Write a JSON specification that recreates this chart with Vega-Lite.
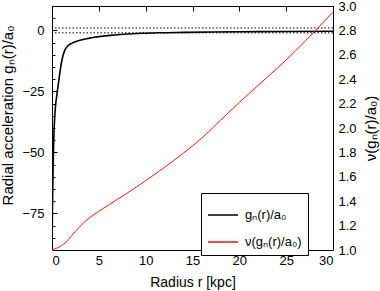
{
  "$schema": "https://vega.github.io/schema/vega-lite/v6.json",
  "autosize": "none",
  "width": 281,
  "height": 244,
  "padding": {"left": 52, "top": 6, "right": 47, "bottom": 41},
  "background": "white",
  "config": {
    "view": {"stroke": "black", "strokeWidth": 1},
    "font": "Liberation Sans",
    "axis": {"grid": true, "gridColor": "black", "gridOpacity": 1, "gridWidth": 1, "ticks": false, "domain": false, "labelColor": "black", "titleColor": "black", "labelFont": "Liberation Sans", "titleFont": "Liberation Sans", "labelFontSize": 13, "titleFontSize": 14, "titleFontWeight": "normal", "labelOverlap": false},
    "legend": {"labelFont": "Liberation Sans", "labelFontSize": 13, "labelColor": "black"}
  },
  "datasets": {
    "accel": [
      {"r": 0, "g": -90, "series": "gₙ(r)/a₀"},
      {"r": 0.04, "g": -75, "series": "gₙ(r)/a₀"},
      {"r": 0.08, "g": -65, "series": "gₙ(r)/a₀"},
      {"r": 0.14, "g": -52, "series": "gₙ(r)/a₀"},
      {"r": 0.2, "g": -43, "series": "gₙ(r)/a₀"},
      {"r": 0.3, "g": -35, "series": "gₙ(r)/a₀"},
      {"r": 0.4, "g": -30, "series": "gₙ(r)/a₀"},
      {"r": 0.5, "g": -27, "series": "gₙ(r)/a₀"},
      {"r": 0.64, "g": -23, "series": "gₙ(r)/a₀"},
      {"r": 0.8, "g": -18.5, "series": "gₙ(r)/a₀"},
      {"r": 0.93, "g": -15, "series": "gₙ(r)/a₀"},
      {"r": 1.1, "g": -11.5, "series": "gₙ(r)/a₀"},
      {"r": 1.36, "g": -8.2, "series": "gₙ(r)/a₀"},
      {"r": 1.7, "g": -6.3, "series": "gₙ(r)/a₀"},
      {"r": 2.1, "g": -5.3, "series": "gₙ(r)/a₀"},
      {"r": 2.6, "g": -4.5, "series": "gₙ(r)/a₀"},
      {"r": 3.2, "g": -3.8, "series": "gₙ(r)/a₀"},
      {"r": 3.7, "g": -3.4, "series": "gₙ(r)/a₀"},
      {"r": 4.5, "g": -2.8, "series": "gₙ(r)/a₀"},
      {"r": 5.3, "g": -2.4, "series": "gₙ(r)/a₀"},
      {"r": 6.2, "g": -2.05, "series": "gₙ(r)/a₀"},
      {"r": 7.3, "g": -1.7, "series": "gₙ(r)/a₀"},
      {"r": 8.6, "g": -1.37, "series": "gₙ(r)/a₀"},
      {"r": 10, "g": -1.15, "series": "gₙ(r)/a₀"},
      {"r": 11.5, "g": -0.96, "series": "gₙ(r)/a₀"},
      {"r": 14, "g": -0.8, "series": "gₙ(r)/a₀"},
      {"r": 17, "g": -0.65, "series": "gₙ(r)/a₀"},
      {"r": 20, "g": -0.55, "series": "gₙ(r)/a₀"},
      {"r": 25, "g": -0.42, "series": "gₙ(r)/a₀"},
      {"r": 30, "g": -0.32, "series": "gₙ(r)/a₀"}
    ],
    "nu": [
      {"r": 0, "nu": 1.0, "series": "ν(gₙ(r)/a₀)"},
      {"r": 0.5, "nu": 1.015, "series": "ν(gₙ(r)/a₀)"},
      {"r": 1, "nu": 1.035, "series": "ν(gₙ(r)/a₀)"},
      {"r": 1.5, "nu": 1.065, "series": "ν(gₙ(r)/a₀)"},
      {"r": 2, "nu": 1.108, "series": "ν(gₙ(r)/a₀)"},
      {"r": 2.5, "nu": 1.152, "series": "ν(gₙ(r)/a₀)"},
      {"r": 3, "nu": 1.195, "series": "ν(gₙ(r)/a₀)"},
      {"r": 3.5, "nu": 1.232, "series": "ν(gₙ(r)/a₀)"},
      {"r": 4, "nu": 1.264, "series": "ν(gₙ(r)/a₀)"},
      {"r": 5, "nu": 1.317, "series": "ν(gₙ(r)/a₀)"},
      {"r": 6, "nu": 1.367, "series": "ν(gₙ(r)/a₀)"},
      {"r": 7, "nu": 1.416, "series": "ν(gₙ(r)/a₀)"},
      {"r": 8, "nu": 1.465, "series": "ν(gₙ(r)/a₀)"},
      {"r": 9, "nu": 1.516, "series": "ν(gₙ(r)/a₀)"},
      {"r": 10, "nu": 1.569, "series": "ν(gₙ(r)/a₀)"},
      {"r": 11, "nu": 1.622, "series": "ν(gₙ(r)/a₀)"},
      {"r": 12, "nu": 1.677, "series": "ν(gₙ(r)/a₀)"},
      {"r": 13, "nu": 1.734, "series": "ν(gₙ(r)/a₀)"},
      {"r": 14, "nu": 1.793, "series": "ν(gₙ(r)/a₀)"},
      {"r": 15, "nu": 1.853, "series": "ν(gₙ(r)/a₀)"},
      {"r": 16, "nu": 1.918, "series": "ν(gₙ(r)/a₀)"},
      {"r": 17, "nu": 1.99, "series": "ν(gₙ(r)/a₀)"},
      {"r": 18, "nu": 2.064, "series": "ν(gₙ(r)/a₀)"},
      {"r": 19, "nu": 2.137, "series": "ν(gₙ(r)/a₀)"},
      {"r": 20, "nu": 2.21, "series": "ν(gₙ(r)/a₀)"},
      {"r": 21, "nu": 2.28, "series": "ν(gₙ(r)/a₀)"},
      {"r": 22, "nu": 2.349, "series": "ν(gₙ(r)/a₀)"},
      {"r": 23, "nu": 2.418, "series": "ν(gₙ(r)/a₀)"},
      {"r": 24, "nu": 2.487, "series": "ν(gₙ(r)/a₀)"},
      {"r": 25, "nu": 2.558, "series": "ν(gₙ(r)/a₀)"},
      {"r": 26, "nu": 2.633, "series": "ν(gₙ(r)/a₀)"},
      {"r": 27, "nu": 2.71, "series": "ν(gₙ(r)/a₀)"},
      {"r": 28, "nu": 2.789, "series": "ν(gₙ(r)/a₀)"},
      {"r": 29, "nu": 2.869, "series": "ν(gₙ(r)/a₀)"},
      {"r": 30, "nu": 2.95, "series": "ν(gₙ(r)/a₀)"}
    ],
    "levels": [{"level": 1}, {"level": -1}]
  },
  "layer": [
    {
      "layer": [
        {
          "data": {"name": "levels"},
          "mark": {"type": "rule", "color": "black", "strokeWidth": 1, "strokeDash": [1.5, 2]},
          "encoding": {
            "y": {"field": "level", "type": "quantitative",
              "axis": {"orient": "left", "title": "Radial acceleration gₙ(r)/a₀", "titleFontSize": 15, "titleX": -37, "titleY": 109,
                "values": [-85, -80, -75, -70, -65, -60, -55, -50, -45, -40, -35, -30, -25, -20, -15, -10, -5, 0, 5],
                "labelExpr": "abs(datum.value) % 25 === 0 ? format(datum.value, 'd') : ''",
                "labelOverlap": false, "labelPadding": 8,
                "gridDash": {"condition": {"test": "abs(datum.value) % 25 === 0", "value": [5, 1000]}, "value": [3, 1000]}}}
          }
        },
        {
          "data": {"name": "accel"},
          "mark": {"type": "line", "strokeWidth": 1.6, "interpolate": "monotone", "clip": true},
          "encoding": {
            "x": {"field": "r", "type": "quantitative", "scale": {"domain": [0, 30], "nice": false},
              "axis": {"orient": "bottom", "title": "Radius r [kpc]", "values": [0, 5, 10, 15, 20, 25, 30], "labelPadding": 4, "titlePadding": 8, "gridDash": [5, 1000]}},
            "y": {"field": "g", "type": "quantitative", "scale": {"domain": [-90, 10], "nice": false, "zero": false},
              "axis": {"orient": "left", "title": "Radial acceleration gₙ(r)/a₀", "titleFontSize": 15, "titleX": -37, "titleY": 109,
                "values": [-85, -80, -75, -70, -65, -60, -55, -50, -45, -40, -35, -30, -25, -20, -15, -10, -5, 0, 5],
                "labelExpr": "abs(datum.value) % 25 === 0 ? format(datum.value, 'd') : ''",
                "labelOverlap": false, "labelPadding": 8,
                "gridDash": {"condition": {"test": "abs(datum.value) % 25 === 0", "value": [5, 1000]}, "value": [3, 1000]}}},
            "color": {"field": "series", "type": "nominal",
              "scale": {"domain": ["gₙ(r)/a₀", "ν(gₙ(r)/a₀)"], "range": ["#000000", "#ff1010"]},
              "legend": {"title": null, "orient": "none", "legendX": 149, "legendY": 187, "strokeColor": "black", "fillColor": "white", "padding": 6, "symbolType": "stroke", "symbolSize": 900, "symbolStrokeWidth": 1.5, "rowPadding": 4, "labelOffset": 6}}
          }
        }
      ]
    },
    {
      "data": {"name": "nu"},
      "mark": {"type": "line", "strokeWidth": 1, "interpolate": "monotone", "clip": true},
      "encoding": {
        "x": {"field": "r", "type": "quantitative", "scale": {"domain": [0, 30], "nice": false},
          "axis": {"orient": "top", "title": null, "labels": false, "values": [0, 5, 10, 15, 20, 25, 30], "gridDash": [5, 1000]}},
        "y": {"field": "nu", "type": "quantitative", "scale": {"domain": [1, 3], "nice": false, "zero": false},
          "axis": {"orient": "right", "title": "ν(gₙ(r)/a₀)", "titleFontSize": 15, "titleAngle": -90, "titleX": 45,
            "values": [1.0, 1.1, 1.2, 1.3, 1.4, 1.5, 1.6, 1.7, 1.8, 1.9, 2.0, 2.1, 2.2, 2.3, 2.4, 2.5, 2.6, 2.7, 2.8, 2.9, 3.0],
            "labelExpr": "round(datum.value * 10) % 2 === 0 ? format(datum.value, '.1f') : ''",
            "labelOverlap": false, "labelPadding": 5,
            "gridDash": {"condition": {"test": "round(datum.value * 10) % 2 === 0", "value": [5, 1000]}, "value": [3, 1000]}}},
        "color": {"field": "series", "type": "nominal"}
      }
    }
  ],
  "resolve": {"scale": {"y": "independent"}, "axis": {"x": "independent"}}
}
